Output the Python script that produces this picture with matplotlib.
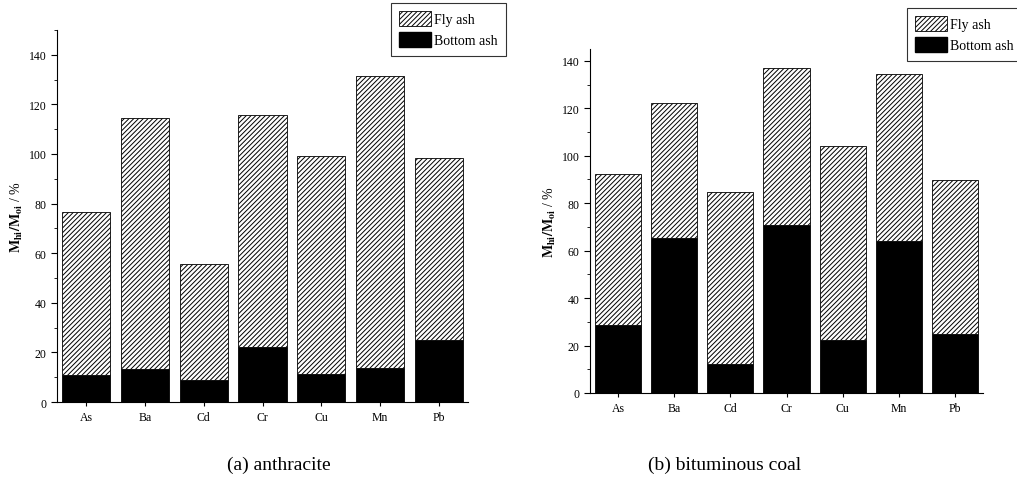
import numpy as np
import matplotlib.pyplot as plt
import matplotlib as mpl
from matplotlib.ticker import MultipleLocator

plt.rcParams['font.family'] = 'Liberation Serif'
plt.rcParams['mathtext.fontset'] = 'stix'
plt.rcParams['hatch.linewidth'] = 0.7

# ---------- data ----------
elements = ["As", "Ba", "Cd", "Cr", "Cu", "Mn", "Pb"]

# (a) anthracite
bottom_a = [10.7, 13.4, 8.7, 22.0, 11.1, 13.8, 25.2]
fly_a = [65.9, 101.1, 47.1, 93.6, 88.0, 117.6, 73.1]

# (b) bituminous coal
bottom_b = [28.7, 65.2, 12.3, 71.0, 22.4, 64.0, 24.9]
fly_b = [63.6, 56.9, 72.4, 66.2, 81.6, 70.4, 65.0]

fig = plt.figure(figsize=(10.17, 4.85), dpi=100)
W, H = 1017, 485

# axes positions in pixels (left, bottom, right, top)
boxes = [(57, 403, 468, 31), (590, 394, 983, 50)]
ylims = [150, 145]
datasets = [(bottom_a, fly_a), (bottom_b, fly_b)]
captions = ["(a) anthracite", "(b) bituminous coal"]
cap_x = [279, 725]
legend_boxes = [(391, 4, 504, 57), (907, 9, 1017, 57)]
HATCH = '///////'

x = np.arange(len(elements))

for k in range(2):
    l, b, r, t = boxes[k]
    ax = fig.add_axes([l / W, 1 - b / H, (r - l) / W, (b - t) / H])
    bot, fly = datasets[k]

    ax.bar(x, bot, width=0.82, color='black', edgecolor='black', linewidth=0.6)
    ax.bar(x, fly, bottom=bot, width=0.82, color='white', edgecolor='black',
           hatch=HATCH, linewidth=0.6)

    ax.set_xlim(-0.5, len(elements) - 0.5)
    ax.set_ylim(0, ylims[k])
    ax.set_xticks(x)
    ax.set_xticklabels(elements, fontsize=8.5)
    ax.yaxis.set_major_locator(MultipleLocator(20))
    ax.yaxis.set_minor_locator(MultipleLocator(10))
    ax.tick_params(axis='y', labelsize=8.5, direction='out', length=4, width=0.8)
    ax.tick_params(axis='y', which='minor', direction='out', length=2, width=0.6)
    ax.tick_params(axis='x', direction='out', length=3, width=0.8)
    ax.spines['top'].set_visible(False)
    ax.spines['right'].set_visible(False)
    ax.spines['left'].set_linewidth(0.8)
    ax.spines['bottom'].set_linewidth(0.8)
    ax.set_ylabel(r"$\mathbf{M_{hi}/M_{oi}}$ / %", fontsize=10, labelpad=3)

    fig.text(cap_x[k] / W, 1 - 465 / H, captions[k], ha='center', va='center',
             fontsize=14)

    # legend
    ll, lt, lr, lb = legend_boxes[k]
    fly_patch = mpl.patches.Patch(facecolor='white', edgecolor='black',
                                  hatch=HATCH, linewidth=0.6, label='Fly ash')
    bot_patch = mpl.patches.Patch(facecolor='black', edgecolor='black',
                                  label='Bottom ash')
    leg = fig.legend(handles=[fly_patch, bot_patch], loc='upper left',
                     bbox_to_anchor=(ll / W, 1 - lt / H), fontsize=10,
                     frameon=True, fancybox=False, handlelength=2.3,
                     handleheight=1.2, handletextpad=0.2, labelspacing=0.45,
                     borderpad=0.6, borderaxespad=0)
    leg.get_frame().set_edgecolor('black')
    leg.get_frame().set_linewidth(0.8)

fig.savefig("out.png", dpi=100)
